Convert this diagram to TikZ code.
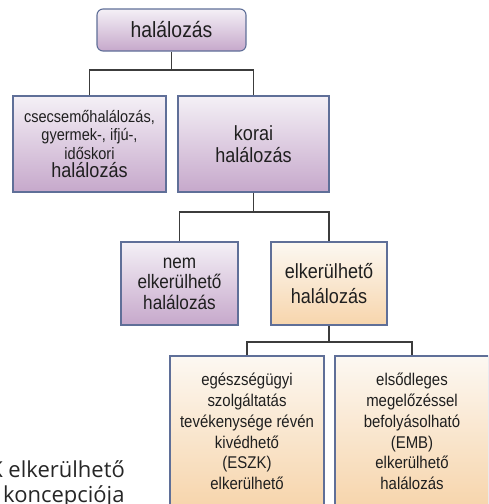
\documentclass[tikz,border=0pt]{standalone}
\usepackage{fontspec}
\setmainfont{Liberation Sans}[FakeStretch=0.88]
\newfontfamily\notefont{Open Sans}
\newcommand\fsz[2]{\fontsize{#1}{#2}\selectfont}
\definecolor{boxedge}{HTML}{5F6F98}
\definecolor{connline}{HTML}{3C3C3C}
\definecolor{lilactop}{HTML}{F4F0F6}
\definecolor{lilacbot}{HTML}{C6A8CB}
\definecolor{peachtop}{HTML}{FCF8F2}
\definecolor{peachbot}{HTML}{F7D5AC}
\definecolor{notegray}{HTML}{262626}
\begin{document}
\begin{tikzpicture}[x=1pt,y=-1pt,
  box/.style={draw=boxedge, line width=1.1pt, align=center, inner sep=0pt, text=black!88},
  lilac/.style={box, top color=lilactop, bottom color=lilacbot},
  peach/.style={box, top color=peachtop, bottom color=peachbot},
  conn/.style={draw=connline, line width=1.2pt},
  note/.style={inner sep=0pt, text=notegray, font=\notefont\fsz{22}{24}}]
\useasboundingbox (0,0) rectangle (488,504);
\clip (0,0) rectangle (488,504);

% caption text partly hidden behind the lower boxes
\node[note, anchor=base east] (n1) at (125,477) {ESZK elkerülhető};
\node[note, anchor=base west] (n2) at (3,502) {koncepciója};

% boxes
\node[lilac, rounded corners=6pt, minimum width=149pt, minimum height=42pt,
      font=\fsz{22}{24}] (root) at (171.5,30) {halálozás};
\node[lilac, minimum width=153pt, minimum height=96pt, font=\fsz{16.5}{18.5}]
      (b2) at (89.5,144) {csecsemőhalálozás,\\gyermek-, ifjú-,\\időskori\\{\fsz{20.5}{22}halálozás}};
\node[lilac, minimum width=151pt, minimum height=96pt, font=\fsz{20.5}{22}]
      (b3) at (253.5,144) {korai\\halálozás};
\node[lilac, minimum width=117pt, minimum height=83pt, font=\fsz{19.5}{20.5}]
      (b4) at (179.5,283.5) {nem\\elkerülhető\\halálozás};
\node[peach, minimum width=116pt, minimum height=83pt, font=\fsz{20.5}{25}]
      (b5) at (329,283.5) {elkerülhető\\halálozás};
\node[peach, minimum width=154pt, minimum height=151pt, font=\fsz{17}{20.7}]
      (b6) at (247,431.5) {egészségügyi\\szolgáltatás\\tevékenysége révén\\kivédhető\\(ESZK)\\elkerülhető};
\node[peach, minimum width=154pt, minimum height=151pt, font=\fsz{17}{20.7}]
      (b7) at (412,431.5) {elsődleges\\megelőzéssel\\befolyásolható\\(EMB)\\elkerülhető\\halálozás};

% tree connectors
\coordinate (j1) at (171.5,70);
\coordinate (j2) at (253.5,212);
\coordinate (j3) at (329,342);
\draw[conn] (root.south) -- (j1);
\draw[conn] (b2.north) |- (j1) -| (b3.north);
\draw[conn] (b3.south) -- (j2);
\draw[conn] (b4.north) |- (j2) -| (b5.north);
\draw[conn] (b5.south) -- (j3);
\draw[conn] (b6.north) |- (j3) -| (b7.north);
\end{tikzpicture}
\end{document}
